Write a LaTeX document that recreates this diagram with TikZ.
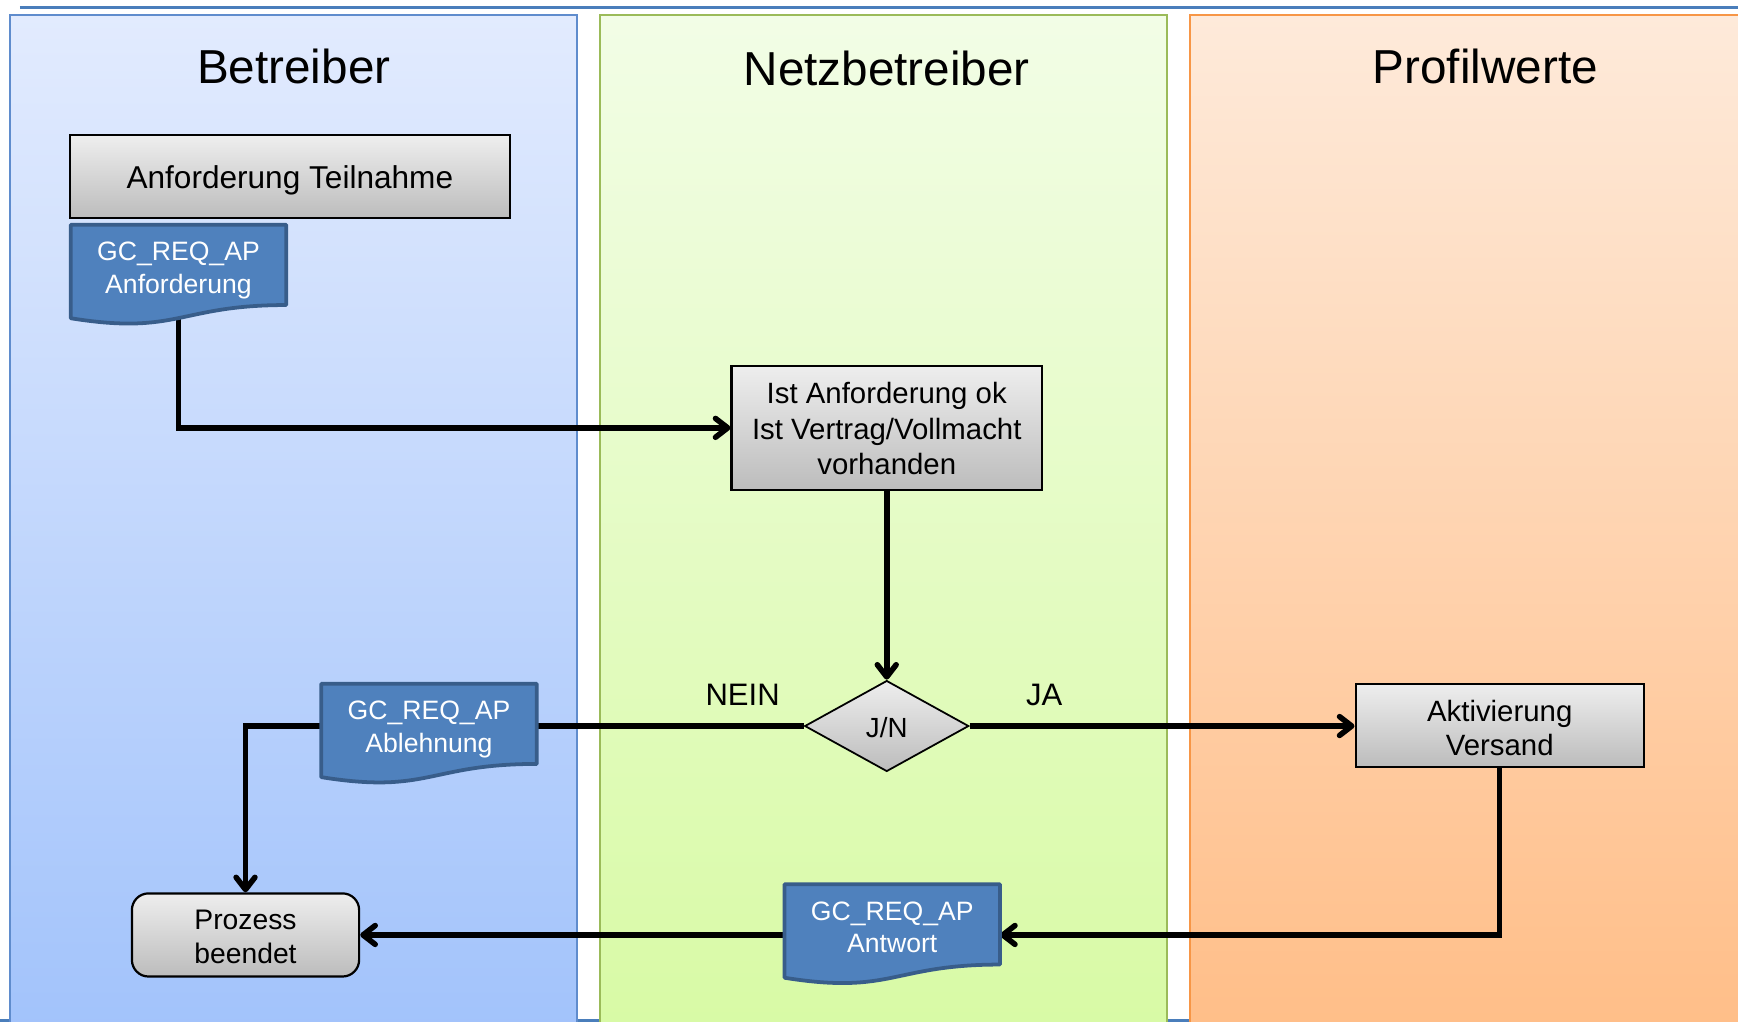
\documentclass[tikz,border=0pt]{standalone}
\usepackage{fontspec}
\setmainfont{Liberation Sans}
\usetikzlibrary{arrows.meta,calc,shapes.geometric}
\pgfdeclarelayer{lanes}
\pgfdeclarelayer{conns}
\pgfdeclarelayer{docs}
\pgfsetlayers{lanes,conns,docs,main}
\definecolor{frameblue}{RGB}{74,126,187}
\definecolor{laneAtop}{RGB}{226,235,254}
\definecolor{laneAbot}{RGB}{162,195,251}
\definecolor{laneAline}{RGB}{95,140,205}
\definecolor{laneBtop}{RGB}{242,253,230}
\definecolor{laneBbot}{RGB}{216,250,165}
\definecolor{laneBline}{RGB}{155,187,89}
\definecolor{laneCtop}{RGB}{254,234,218}
\definecolor{laneCbot}{RGB}{255,190,136}
\definecolor{laneCline}{RGB}{247,150,70}
\definecolor{boxtop}{RGB}{238,238,238}
\definecolor{boxbot}{RGB}{188,188,188}
\definecolor{docfill}{RGB}{79,129,189}
\definecolor{docline}{RGB}{56,93,138}
\newcommand{\docshape}[1]{%
  \begin{pgfonlayer}{docs}
  \filldraw[docstyle] (#1.north west) -- (#1.north east) -- (#1.south east)
    .. controls (#1.south) and ($(#1.south)+(0pt,-27.5pt)$) .. ($(#1.south west)+(0pt,-11.9pt)$) -- cycle;
  \end{pgfonlayer}}
% lower the visible text without changing the box size
\newcommand{\lowtxt}[2]{\raisebox{-#1}[\height][\depth]{\begin{tabular}{@{}c@{}}#2\end{tabular}}}
\renewcommand{\arraystretch}{1.03}
\tikzset{
  procbox/.style={draw=black, line width=2pt, top color=boxtop, bottom color=boxbot,
    inner sep=0pt},
  docnode/.style={minimum width=194pt, minimum height=72pt, inner sep=0pt,
    text=white, font=\fontsize{24}{28.5}\selectfont},
  docstyle/.style={fill=docfill, draw=docline, line width=3.4pt, line join=round},
  conn/.style={line width=5pt, draw=black},
  arr/.style={conn, -{Straight Barb[length=11pt,width=17pt,round]}},
  lanetitle/.style={font=\fontsize{43}{50}\selectfont},
  lbl/.style={font=\fontsize{28}{33}\selectfont}
}
\begin{document}
\begin{tikzpicture}[x=1pt,y=-1pt]
\useasboundingbox (0,0) rectangle (1568,922);
% lanes
\begin{pgfonlayer}{lanes}
\fill[white] (0,0) rectangle (1568,922);
\draw[frameblue, line width=2.2pt] (0,920.5) -- (1568,920.5);
\draw[frameblue, line width=2.7pt] (18,6.8) -- (1568,6.8);
\shade[top color=laneAtop, bottom color=laneAbot] (9,13.5) rectangle (521,930);
\draw[laneAline, line width=1.8pt] (9,930) -- (9,13.5) -- (521,13.5) -- (521,930);
\shade[top color=laneBtop, bottom color=laneBbot] (541,13.5) rectangle (1053,930);
\draw[laneBline, line width=1.8pt] (541,930) -- (541,13.5) -- (1053,13.5) -- (1053,930);
\shade[top color=laneCtop, bottom color=laneCbot] (1073.5,13.5) rectangle (1580,930);
\draw[laneCline, line width=1.8pt] (1073.5,930) -- (1073.5,13.5) -- (1580,13.5);
\end{pgfonlayer}
% titles
\node[lanetitle] (tA) at (265,60) {Betreiber};
\node[lanetitle] (tB) at (800,62) {Netzbetreiber};
\node[lanetitle] (tC) at (1340,60) {Profilwerte};
% nodes
\node[procbox, minimum width=397pt, minimum height=75pt, font=\fontsize{28.5}{33}\selectfont] (anfT) at (261.5,159.5) {\lowtxt{4pt}{Anforderung Teilnahme}};
\node[docnode] (docA) at (161,239) {\lowtxt{5pt}{GC\_REQ\_AP\\Anforderung}};
\docshape{docA}
\node[procbox, minimum width=280pt, minimum height=112pt, font=\fontsize{26.5}{31}\selectfont] (ist) at (800,386) {\lowtxt{4pt}{Ist Anforderung ok\\Ist Vertrag/Vollmacht\\vorhanden}};
\node[diamond, draw=black, line width=1.6pt, top color=boxtop, bottom color=boxbot, inner sep=0pt,
  minimum width=148pt, minimum height=82pt, aspect=1.8, font=\fontsize{25}{30}\selectfont] (jn) at (800,655) {\lowtxt{4pt}{J/N}};
\node[procbox, minimum width=260pt, minimum height=75pt, font=\fontsize{26.5}{30.5}\selectfont] (aktiv) at (1353,654.5) {\lowtxt{5.5pt}{Aktivierung\\Versand}};
\node[docnode] (docB) at (387,653) {\lowtxt{5pt}{GC\_REQ\_AP\\Ablehnung}};
\docshape{docB}
\node[docnode] (docC) at (805,834) {\lowtxt{5pt}{GC\_REQ\_AP\\Antwort}};
\docshape{docC}
\node[procbox, rounded corners=15pt, minimum width=205pt, minimum height=75pt, font=\fontsize{25.5}{29.5}\selectfont] (proz) at (221.5,843.5) {\lowtxt{4.5pt}{Prozess\\beendet}};
\node[lbl] (nein) at (670,627) {NEIN};
\node[lbl] (ja) at (942,627) {JA};
% connectors
\begin{pgfonlayer}{conns}
\draw[arr] (docA.south) |- (ist.west);
\draw[arr] (ist.south) -- (jn.north);
\draw[arr] (jn.east) -- (aktiv.west |- jn.east);
\draw[conn] (jn.west) -- (docB.east |- jn.west);
\draw[arr] (docB.west |- jn.west) -| (proz.north);
\draw[arr] (aktiv.south) |- (docC.east |- proz.east);
\draw[arr] (docC.west |- proz.east) -- (proz.east);
\end{pgfonlayer}
\end{tikzpicture}
\end{document}
